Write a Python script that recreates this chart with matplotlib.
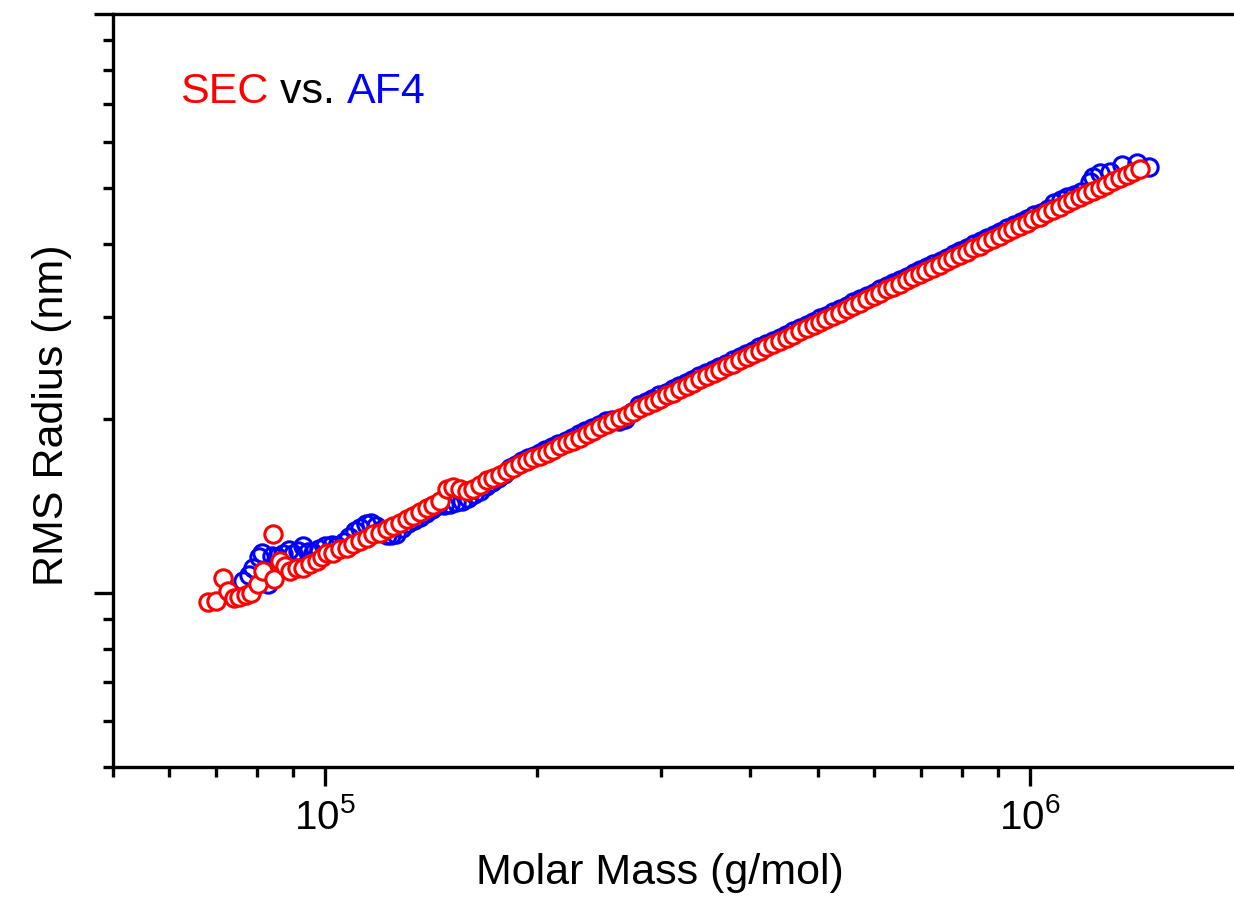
import matplotlib
matplotlib.use('Agg')
import matplotlib.pyplot as plt
import numpy as np
from matplotlib.ticker import LogLocator, NullFormatter

# ---- data (log10 of molar mass in g/mol, log10 of RMS radius in nm) ----
log10_mass_sec = [
    4.834, 4.845, 4.855, 4.862, 4.870, 4.878, 4.887, 4.895, 4.904, 4.912,
    4.926, 4.928, 4.936, 4.943, 4.950, 4.960, 4.969, 4.979, 4.989, 4.996,
    5.003, 5.011, 5.021, 5.031, 5.040, 5.050, 5.060, 5.068, 5.078, 5.088,
    5.096, 5.106, 5.116, 5.125, 5.135, 5.145, 5.153, 5.163, 5.173, 5.182,
    5.191, 5.201, 5.210, 5.220, 5.230, 5.238, 5.248, 5.258, 5.267, 5.277,
    5.287, 5.295, 5.305, 5.315, 5.323, 5.333, 5.343, 5.352, 5.362, 5.372,
    5.380,
    5.390, 5.400, 5.409, 5.418, 5.428, 5.437, 5.447, 5.456, 5.466, 5.475,
    5.485, 5.494, 5.504, 5.513, 5.522, 5.532, 5.541, 5.551, 5.560, 5.570,
    5.579, 5.589, 5.598, 5.607, 5.617, 5.626, 5.636, 5.645, 5.655, 5.664,
    5.674, 5.683, 5.693, 5.702, 5.711, 5.721, 5.730, 5.740, 5.749, 5.759,
    5.768, 5.778, 5.787, 5.797, 5.806, 5.815, 5.825, 5.834, 5.844, 5.853,
    5.863, 5.872, 5.882, 5.891, 5.900, 5.910, 5.919, 5.929, 5.938, 5.948,
    5.957, 5.967, 5.976, 5.986, 5.995, 6.004, 6.014, 6.023, 6.033, 6.042,
    6.052, 6.061, 6.071, 6.080, 6.089, 6.099, 6.108, 6.118, 6.127, 6.137,
    6.146, 6.156,
]
log10_radius_sec = [
    0.984, 0.986, 1.026, 1.003, 0.991, 0.993, 0.997, 1.000, 1.016, 1.038,
    1.102, 1.024, 1.055, 1.047, 1.038, 1.042, 1.043, 1.050, 1.055, 1.061,
    1.068, 1.069, 1.076, 1.078, 1.085, 1.090, 1.095, 1.102, 1.104, 1.111,
    1.116, 1.121, 1.128, 1.133, 1.140, 1.147, 1.152, 1.159, 1.180, 1.183,
    1.180, 1.175, 1.180, 1.187, 1.194, 1.199, 1.204, 1.211, 1.216, 1.222,
    1.227, 1.232, 1.237, 1.242, 1.247, 1.253, 1.258, 1.263, 1.268, 1.275,
    1.280,
    1.286, 1.291, 1.297, 1.302, 1.308, 1.313, 1.319, 1.324, 1.330, 1.335,
    1.341, 1.346, 1.352, 1.357, 1.363, 1.369, 1.374, 1.380, 1.385, 1.391,
    1.396, 1.402, 1.407, 1.412, 1.418, 1.424, 1.429, 1.435, 1.440, 1.446,
    1.452, 1.457, 1.463, 1.468, 1.473, 1.479, 1.484, 1.490, 1.496, 1.501,
    1.507, 1.512, 1.518, 1.524, 1.529, 1.534, 1.540, 1.545, 1.551, 1.556,
    1.562, 1.567, 1.573, 1.578, 1.584, 1.589, 1.595, 1.600, 1.606, 1.612,
    1.617, 1.623, 1.628, 1.634, 1.639, 1.645, 1.650, 1.656, 1.661, 1.667,
    1.673, 1.678, 1.684, 1.689, 1.694, 1.700, 1.705, 1.711, 1.716, 1.722,
    1.727, 1.733,
]

log10_mass_af4 = [
    4.884, 4.892, 4.898, 4.906, 4.911, 4.919, 4.925, 4.932, 4.940, 4.949,
    4.955, 4.962, 4.969, 4.976, 4.983, 4.991, 5.000, 5.009, 5.017, 5.026,
    5.034, 5.043, 5.050, 5.058, 5.065, 5.072, 5.079, 5.087, 5.094, 5.101,
    5.109, 5.118, 5.126, 5.135, 5.143, 5.152, 5.160, 5.169, 5.177, 5.186,
    5.194, 5.203, 5.211, 5.220, 5.228, 5.237, 5.245, 5.254, 5.262, 5.271,
    5.279, 5.288, 5.296, 5.305,
    5.312, 5.322, 5.331, 5.341, 5.350, 5.360, 5.369, 5.379, 5.388, 5.398,
    5.407, 5.417, 5.426, 5.436, 5.445, 5.455, 5.464, 5.474, 5.483, 5.493,
    5.502, 5.512, 5.521, 5.531, 5.540, 5.550, 5.559, 5.569, 5.578, 5.588,
    5.597, 5.607, 5.616, 5.626, 5.635, 5.645, 5.654, 5.664, 5.673, 5.683,
    5.692, 5.702, 5.711, 5.721, 5.730, 5.740, 5.749, 5.759, 5.768, 5.778,
    5.787, 5.797, 5.806, 5.816, 5.825, 5.835, 5.844, 5.854, 5.863, 5.873,
    5.882, 5.892, 5.901, 5.911, 5.920, 5.930, 5.939, 5.949, 5.958, 5.968,
    5.977, 5.987, 5.996, 6.006, 6.015, 6.025, 6.034, 6.044, 6.053, 6.063,
    6.072, 6.085, 6.089, 6.099, 6.113, 6.130, 6.152, 6.169,
]
log10_radius_af4 = [
    1.021, 1.031, 1.043, 1.061, 1.069, 1.016, 1.064, 1.061, 1.067, 1.074,
    1.067, 1.073, 1.080, 1.071, 1.069, 1.076, 1.081, 1.083, 1.081, 1.088,
    1.097, 1.106, 1.112, 1.119, 1.121, 1.116, 1.109, 1.100, 1.099, 1.102,
    1.112, 1.121, 1.126, 1.131, 1.138, 1.145, 1.151, 1.152, 1.154, 1.157,
    1.159, 1.164, 1.170, 1.176, 1.185, 1.192, 1.199, 1.206, 1.215, 1.220,
    1.227, 1.232, 1.237, 1.242,
    1.246, 1.252, 1.257, 1.263, 1.268, 1.274, 1.279, 1.285, 1.290, 1.296,
    1.298, 1.296, 1.300, 1.312, 1.324, 1.330, 1.335, 1.341, 1.346, 1.352,
    1.357, 1.363, 1.368, 1.374, 1.379, 1.385, 1.390, 1.396, 1.402, 1.407,
    1.413, 1.418, 1.424, 1.430, 1.435, 1.441, 1.446, 1.452, 1.457, 1.463,
    1.468, 1.474, 1.479, 1.485, 1.490, 1.496, 1.502, 1.507, 1.513, 1.518,
    1.524, 1.530, 1.535, 1.541, 1.546, 1.552, 1.557, 1.563, 1.568, 1.574,
    1.579, 1.585, 1.590, 1.596, 1.602, 1.607, 1.613, 1.619, 1.624, 1.630,
    1.635, 1.641, 1.646, 1.652, 1.657, 1.663, 1.673, 1.679, 1.684, 1.688,
    1.692, 1.709, 1.718, 1.725, 1.727, 1.739, 1.742, 1.735,
]

x_label = 'Molar Mass (g/mol)'
y_label = 'RMS Radius (nm)'
title_parts = ['SEC', ' vs. ', 'AF4']
title_colors = ['#FF0000', '#000000', '#0000FF']

mass_sec = 10 ** np.array(log10_mass_sec)
radius_sec = 10 ** np.array(log10_radius_sec)
mass_af4 = 10 ** np.array(log10_mass_af4)
radius_af4 = 10 ** np.array(log10_radius_af4)

plt.rcParams['font.family'] = ['Liberation Sans', 'DejaVu Sans']
plt.rcParams['mathtext.fontset'] = 'custom'
plt.rcParams['mathtext.rm'] = 'Liberation Sans'
plt.rcParams['mathtext.it'] = 'Liberation Sans:italic'
plt.rcParams['mathtext.bf'] = 'Liberation Sans:bold'

W, H = 1234, 901
fig = plt.figure(figsize=(W / 100, H / 100), dpi=100)
ax = fig.add_axes([113 / W, 134 / H, 1121 / W, 753 / H])

ax.plot(mass_af4, radius_af4, 'o', ls='none', ms=12.5, mfc='none',
        mec='#0000FF', mew=2.2)
ax.plot(mass_sec, radius_sec, 'o', ls='none', ms=12.5, mfc='white',
        mec='#FF0000', mew=2.2)

ax.set_xscale('log')
ax.set_yscale('log')
ax.set_xlim(5e4, 1.947e6)
ax.set_ylim(5, 100)

ax.spines['right'].set_visible(False)
for s in ['left', 'bottom', 'top']:
    ax.spines[s].set_linewidth(2.4)
ax.xaxis.set_ticks_position('bottom')
ax.yaxis.set_ticks_position('left')

ax.xaxis.set_major_locator(LogLocator(base=10))
ax.xaxis.set_minor_locator(LogLocator(base=10, subs=np.arange(2, 10)))
ax.xaxis.set_minor_formatter(NullFormatter())
ax.yaxis.set_major_locator(LogLocator(base=10))
ax.yaxis.set_minor_locator(LogLocator(base=10, subs=np.arange(2, 10)))
ax.yaxis.set_major_formatter(NullFormatter())
ax.yaxis.set_minor_formatter(NullFormatter())

ax.tick_params(which='major', direction='out', length=14, width=2.4,
               labelsize=29, pad=8)
ax.tick_params(which='minor', direction='out', length=7.5, width=2.4)

ax.set_xlabel(x_label, fontsize=31)
ax.xaxis.set_label_coords((660 - 113) / 1121, (767 - 853) / 753)
ax.set_ylabel(y_label, fontsize=31)
ax.yaxis.set_label_coords((72 - 113) / 1121, (767 - 415) / 753)

t = fig.text(180 / W, (H - 103) / H, title_parts[0], fontsize=31,
             color=title_colors[0], va='baseline', ha='left')
for part, col in zip(title_parts[1:], title_colors[1:]):
    t = ax.annotate(part, xy=(1, 0), xycoords=t, va='bottom', ha='left',
                    fontsize=31, color=col)

fig.savefig('out.png', dpi=100)
